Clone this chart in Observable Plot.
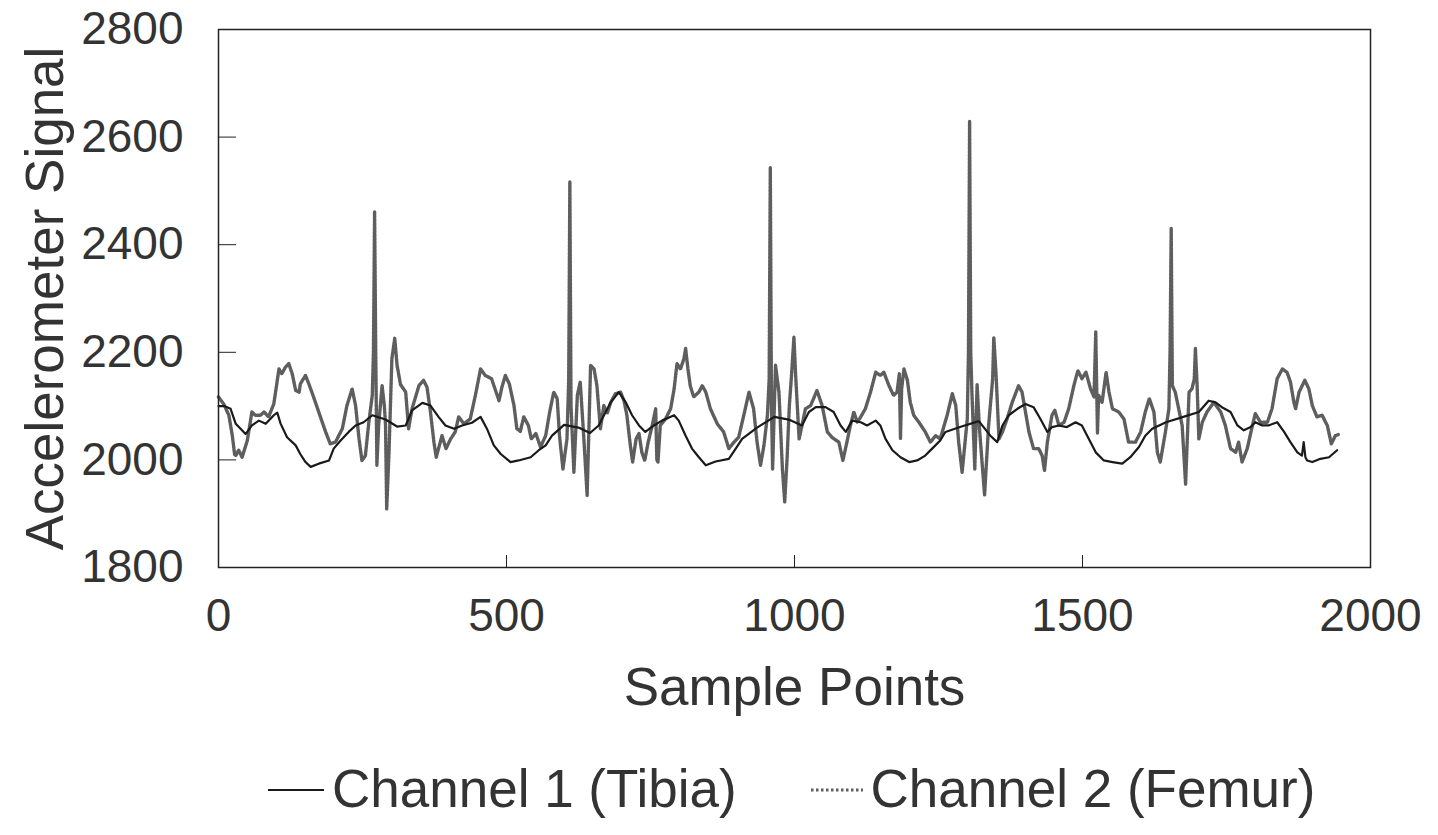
<!DOCTYPE html>
<html><head><meta charset="utf-8">
<script src="https://cdn.jsdelivr.net/npm/d3@7"></script>
<script src="https://cdn.jsdelivr.net/npm/@observablehq/plot@0.6"></script>
<style>
body{margin:0;background:#fff;font-family:"Liberation Sans",Arial,sans-serif;color:#333;}
#legend{display:flex;align-items:center;height:106px;padding-left:266px;font-size:53px;white-space:nowrap;}
#legend .item{display:flex;align-items:center;}
#legend svg{display:block;}
</style></head><body>
<div id="chart"></div>
<div id="legend"></div>
<script>
const xTicks = [0, 500, 1000, 1500, 2000];
const yTicks = [1800, 2000, 2200, 2400, 2600, 2800];
const xLabel = "Sample Points";
const yLabel = "Accelerometer Signal";
const seriesNames = ["Channel 1 (Tibia)", "Channel 2 (Femur)"];

// Channel 1 (Tibia) - thin solid line
const ch1X = [0,10,21,30,47,58,70,82,96,102,108,119,134,142,151,160,174,192,200,212,226,238,252,267,290,310,325,336,354,368,382,394,409,423,440,455,466,478,490,507,521,542,556,568,579,600,625,645,660,681,695,707,718,730,741,756,770,791,799,811,822,834,846,863,886,898,909,935,965,990,1013,1025,1037,1054,1068,1080,1089,1100,1115,1126,1141,1149,1158,1170,1184,1199,1213,1227,1239,1253,1262,1290,1320,1340,1352,1361,1372,1387,1401,1415,1427,1439,1447,1459,1473,1488,1499,1511,1523,1537,1552,1569,1583,1598,1609,1621,1645,1675,1702,1719,1731,1742,1757,1769,1780,1792,1800,1812,1823,1838,1850,1861,1873,1881,1884,1887,1890,1899,1913,1928,1942];
const ch1Y = [2100,2100,2095,2067,2048,2064,2073,2067,2083,2088,2067,2042,2027,2011,1996,1987,1993,1999,2021,2036,2052,2064,2070,2083,2075,2062,2064,2092,2106,2101,2080,2064,2058,2064,2069,2080,2058,2027,2011,1996,1999,2005,2018,2027,2045,2065,2060,2050,2064,2107,2126,2107,2083,2064,2052,2064,2073,2083,2073,2045,2021,2005,1990,1997,2002,2021,2039,2060,2080,2075,2064,2089,2098,2098,2089,2064,2052,2073,2070,2064,2073,2064,2039,2018,2005,1996,1999,2008,2021,2036,2052,2062,2072,2045,2033,2064,2083,2095,2104,2098,2076,2052,2061,2064,2061,2070,2064,2039,2014,1999,1996,1993,2005,2024,2045,2058,2070,2080,2089,2110,2107,2098,2089,2064,2055,2061,2070,2064,2064,2070,2052,2033,2014,2008,2033,2005,1999,1996,2002,2005,2018];

// Channel 2 (Femur) - dotted line
const ch2X = [0,9,18,24,28,30,35,41,50,58,64,73,79,87,96,105,110,116,122,128,134,140,142,151,157,165,174,186,194,203,215,223,232,238,244,249,255,261,267,269,271,273,275,278,284,288,290,292,294,296,301,306,310,316,325,330,336,348,356,362,368,374,378,385,388,395,403,411,417,426,437,446,455,463,474,481,487,492,498,505,513,518,524,530,538,543,551,559,568,575,582,588,592,598,605,608,610,612,617,623,628,634,640,646,652,657,663,669,675,681,689,698,704,709,715,719,725,730,735,740,746,753,759,761,763,767,776,785,791,796,802,808,811,815,819,825,834,840,846,854,866,877,886,895,903,912,921,929,935,941,947,953,956,958,960,962,967,973,979,983,987,991,995,999,1002,1008,1013,1019,1028,1039,1048,1057,1065,1077,1084,1091,1097,1103,1109,1115,1123,1132,1141,1149,1155,1164,1172,1178,1182,1184,1186,1190,1196,1201,1207,1216,1227,1236,1245,1253,1265,1274,1280,1285,1291,1300,1302,1304,1306,1308,1313,1317,1321,1326,1330,1337,1344,1346,1350,1355,1361,1369,1378,1389,1395,1401,1407,1415,1424,1430,1434,1439,1447,1452,1459,1468,1476,1485,1492,1499,1506,1514,1520,1523,1526,1528,1534,1541,1546,1552,1563,1572,1580,1592,1601,1609,1616,1624,1630,1635,1644,1650,1652,1654,1656,1661,1667,1673,1679,1685,1690,1694,1696,1699,1702,1708,1716,1728,1740,1748,1757,1766,1771,1777,1786,1795,1800,1809,1821,1829,1838,1847,1855,1861,1867,1870,1876,1886,1893,1899,1907,1916,1925,1932,1939,1944];
const ch2Y = [2117,2104,2083,2045,2010,2008,2018,2005,2036,2089,2083,2083,2089,2080,2104,2169,2160,2172,2179,2160,2129,2126,2141,2157,2141,2117,2089,2052,2030,2033,2058,2101,2132,2101,2039,1999,2008,2070,2120,2200,2461,2200,1990,2064,2138,2100,2064,1909,1960,2014,2188,2226,2176,2140,2126,2058,2095,2138,2148,2135,2089,2033,2005,2033,2045,2021,2039,2052,2080,2067,2076,2120,2169,2157,2151,2129,2110,2135,2157,2141,2101,2058,2053,2080,2064,2039,2049,2024,2045,2089,2126,2114,2045,1983,2039,2150,2517,2100,1977,2120,2145,2045,1934,2176,2169,2138,2058,2101,2087,2107,2123,2126,2110,2083,2027,1996,2039,2049,2014,1999,2033,2064,2095,2000,1996,2064,2076,2095,2132,2179,2169,2188,2207,2169,2138,2117,2126,2138,2126,2095,2067,2052,2021,2033,2042,2083,2126,2095,2033,1990,2027,2083,2150,2543,2100,1983,2176,2126,1983,1922,2000,2100,2160,2228,2157,2039,2064,2095,2101,2129,2101,2052,2042,2033,1999,2033,2064,2089,2070,2080,2095,2126,2163,2157,2163,2138,2120,2126,2160,2040,2132,2169,2148,2107,2083,2070,2052,2033,2045,2039,2083,2123,2101,2033,1977,2076,2200,2629,2200,2126,1983,2140,2060,1990,1935,2064,2150,2228,2157,2039,2052,2076,2107,2138,2126,2089,2052,2021,2021,2008,1980,2033,2083,2092,2064,2070,2095,2138,2166,2151,2163,2132,2117,2238,2050,2120,2107,2163,2126,2095,2089,2076,2033,2033,2052,2089,2114,2089,2014,1996,2052,2095,2200,2430,2138,2126,2095,2064,1955,2126,2132,2150,2207,2138,2039,2070,2089,2107,2089,2064,2021,2014,2033,1996,2021,2064,2086,2070,2070,2095,2151,2169,2163,2145,2107,2095,2126,2148,2132,2101,2080,2083,2064,2030,2045,2047];

const ch1 = ch1X.map((x, i) => ({x, y: ch1Y[i]}));
const ch2 = ch2X.map((x, i) => ({x, y: ch2Y[i]}));

const textColor = "#333";
const ch1Color = "#1a1a1a";
const ch2Color = "#5e5e5e";
const fmt = d => String(d);

const chart = Plot.plot({
  width: 1438,
  height: 735,
  marginLeft: 218,
  marginRight: 68,
  marginTop: 29,
  marginBottom: 168,
  x: {domain: [0, 2000]},
  y: {domain: [1800, 2800]},
  style: {fontFamily: "'Liberation Sans', Arial, sans-serif", color: textColor, background: "white", overflow: "visible"},
  marks: [
    Plot.line(ch2, {x: "x", y: "y", stroke: ch2Color, strokeWidth: 3.4, strokeDasharray: "2.5,1.2", strokeLinejoin: "round"}),
    Plot.line(ch1, {x: "x", y: "y", stroke: ch1Color, strokeWidth: 2.2, strokeLinejoin: "round"}),
    Plot.frame({stroke: "#222", strokeWidth: 1.5}),
    Plot.axisX(xTicks, {tickSize: 0, tickPadding: 31, fontSize: 46, label: null, fill: textColor, tickFormat: fmt}),
    Plot.axisX(xTicks.slice(1, -1), {tickSize: 12, dy: -12, fill: "none", stroke: "#222", label: null}),
    Plot.axisY(yTicks, {tickSize: 0, tickPadding: 35, fontSize: 46, label: null, fill: textColor, tickFormat: fmt}),
    Plot.axisY(yTicks.slice(1, -1), {tickSize: 18, dx: 18, fill: "none", stroke: "#222", label: null}),
    Plot.text([yLabel], {text: d => d, frameAnchor: "left", dx: -172, rotate: -90, textAnchor: "middle", lineAnchor: "middle", fontSize: 53, fill: textColor}),
    Plot.text([xLabel], {text: d => d, frameAnchor: "bottom", dy: 121, textAnchor: "middle", lineAnchor: "middle", fontSize: 53, fill: textColor})
  ]
});
document.getElementById("chart").appendChild(chart);

// Legend below the chart
const legend = document.getElementById("legend");
function addItem(name, dashed, gapAfter) {
  const item = document.createElement("div");
  item.className = "item";
  item.style.marginRight = gapAfter + "px";
  const sw = d3.create("svg").attr("width", 60).attr("height", 12);
  sw.append("line").attr("x1", 2).attr("x2", dashed ? 54 : 58).attr("y1", 8).attr("y2", 8)
    .attr("stroke", dashed ? ch2Color : ch1Color)
    .attr("stroke-width", dashed ? 3 : 2.2)
    .attr("stroke-dasharray", dashed ? "2.5,2.5" : null);
  item.appendChild(sw.node());
  const t = document.createElement("span");
  t.textContent = name;
  t.style.marginLeft = dashed ? "2px" : "6px";
  item.appendChild(t);
  legend.appendChild(item);
}
addItem(seriesNames[0], false, 72);
addItem(seriesNames[1], true, 0);
</script>
</body></html>
